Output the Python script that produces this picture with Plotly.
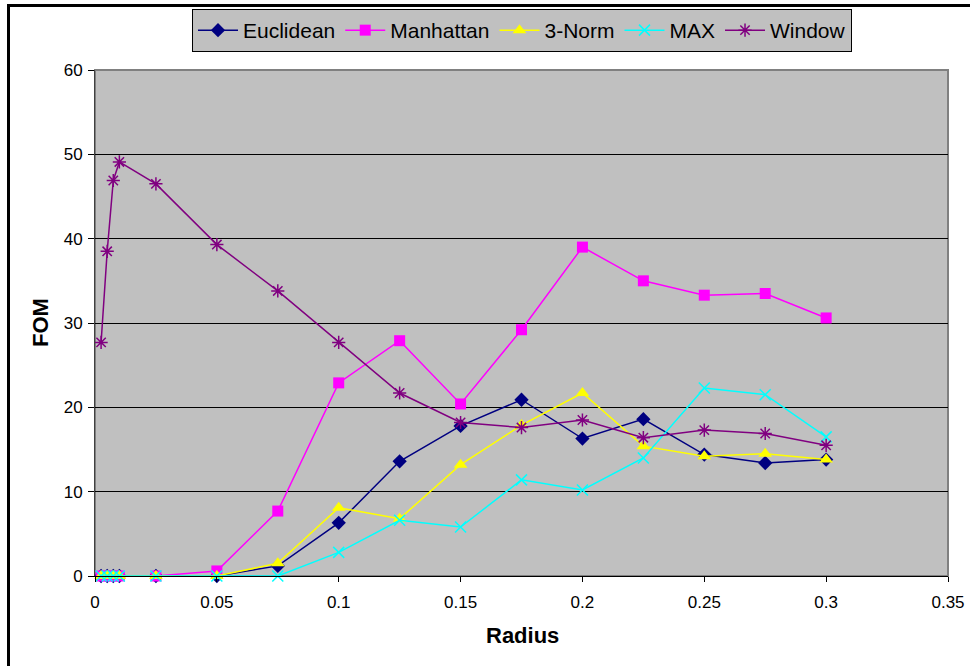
import plotly.graph_objects as go

radius = [0.0025, 0.005, 0.0075, 0.01, 0.025, 0.05, 0.075, 0.1, 0.125, 0.15,
          0.175, 0.2, 0.225, 0.25, 0.275, 0.3]
euclidean = [0, 0, 0, 0, 0, 0, 1.2, 6.3, 13.6, 17.8, 20.9, 16.3, 18.6, 14.4, 13.4, 13.8]
manhattan = [0, 0, 0, 0, 0, 0.6, 7.7, 22.9, 27.9, 20.4, 29.2, 39.0, 35.0, 33.3, 33.5, 30.6]
norm3 = [0, 0, 0, 0, 0, 0, 1.5, 8.1, 6.8, 13.2, 17.9, 21.7, 15.4, 14.2, 14.5, 13.8]
maxn = [0, 0, 0, 0, 0, 0, 0, 2.8, 6.6, 5.8, 11.4, 10.2, 14.0, 22.3, 21.5, 16.5]
window = [27.7, 38.5, 46.9, 49.1, 46.5, 39.3, 33.8, 27.7, 21.7, 18.2, 17.6, 18.5, 16.4, 17.3, 16.9, 15.5]

series = [
    ("Euclidean", euclidean, "#000080", "diamond", 11),
    ("Manhattan", manhattan, "#FF00FF", "square", 11),
    ("3-Norm", norm3, "#FFFF00", "triangle-up", 12),
    ("MAX", maxn, "#00FFFF", "x-thin", 11),
    ("Window", window, "#800080", "asterisk", 11),
]

FONT = "Arial, Liberation Sans, sans-serif"
L, R, T, B = 95, 22, 70, 90
PW, PH = 970 - L - R, 666 - T - B

fig = go.Figure()
for name, vals, color, sym, size in series:
    thin = sym in ("x-thin", "asterisk")
    fig.add_trace(go.Scatter(
        x=radius, y=vals, name=name, mode="lines+markers",
        line=dict(color=color, width=1.5),
        marker=dict(symbol=sym, size=size, color=color,
                    line=dict(color=color, width=1.5 if thin else 0)),
        cliponaxis=False,
    ))

fig.update_layout(
    width=970, height=666,
    margin=dict(l=L, r=R, t=T, b=B, autoexpand=False),
    paper_bgcolor="white",
    plot_bgcolor="#C0C0C0",
    font=dict(family=FONT, color="black", size=17),
    showlegend=True,
    legend=dict(
        orientation="h", x=(522 - L) / PW, xanchor="center",
        y=(576 - 9) / PH, yanchor="top",
        bgcolor="#C0C0C0", bordercolor="black", borderwidth=1,
        font=dict(family=FONT, size=21, color="black"),
        itemwidth=40, tracegroupgap=0,
    ),
    xaxis=dict(
        range=[0, 0.35], dtick=0.05, tick0=0, showgrid=False, zeroline=False,
        showline=True, linecolor="black", linewidth=1, automargin=False,
        ticks="outside", ticklen=5, tickcolor="black",
        tickfont=dict(size=17), ticklabelstandoff=6,
    ),
    yaxis=dict(
        range=[0, 60], dtick=10, showgrid=True, gridcolor="black", gridwidth=1,
        zeroline=False, showline=True, linecolor="#404040", linewidth=1,
        automargin=False,
        ticks="outside", ticklen=6, tickcolor="black",
        tickfont=dict(size=17), ticklabelstandoff=2,
    ),
    annotations=[
        dict(text="<b>Radius</b>", xref="paper", yref="paper",
             x=(522 - L) / PW, y=(576 - 635) / PH, xanchor="center", yanchor="middle",
             showarrow=False, font=dict(size=22)),
        dict(text="<b>FOM</b>", xref="paper", yref="paper",
             x=(40.5 - L) / PW, y=(576 - 322.5) / PH, xanchor="center", yanchor="middle",
             showarrow=False, textangle=-90, font=dict(size=22)),
    ],
    shapes=[
        dict(type="rect", xref="paper", yref="paper", x0=0, x1=1, y0=0, y1=1,
             line=dict(color="#808080", width=2), fillcolor="rgba(0,0,0,0)", layer="below"),
        dict(type="rect", xref="paper", yref="paper",
             x0=(8.5 - L) / PW, y0=-0.3, x1=1.2, y1=(576 - 5.5) / PH,
             line=dict(color="black", width=3), fillcolor="rgba(0,0,0,0)"),
    ],
)

fig.write_html("out.html")
